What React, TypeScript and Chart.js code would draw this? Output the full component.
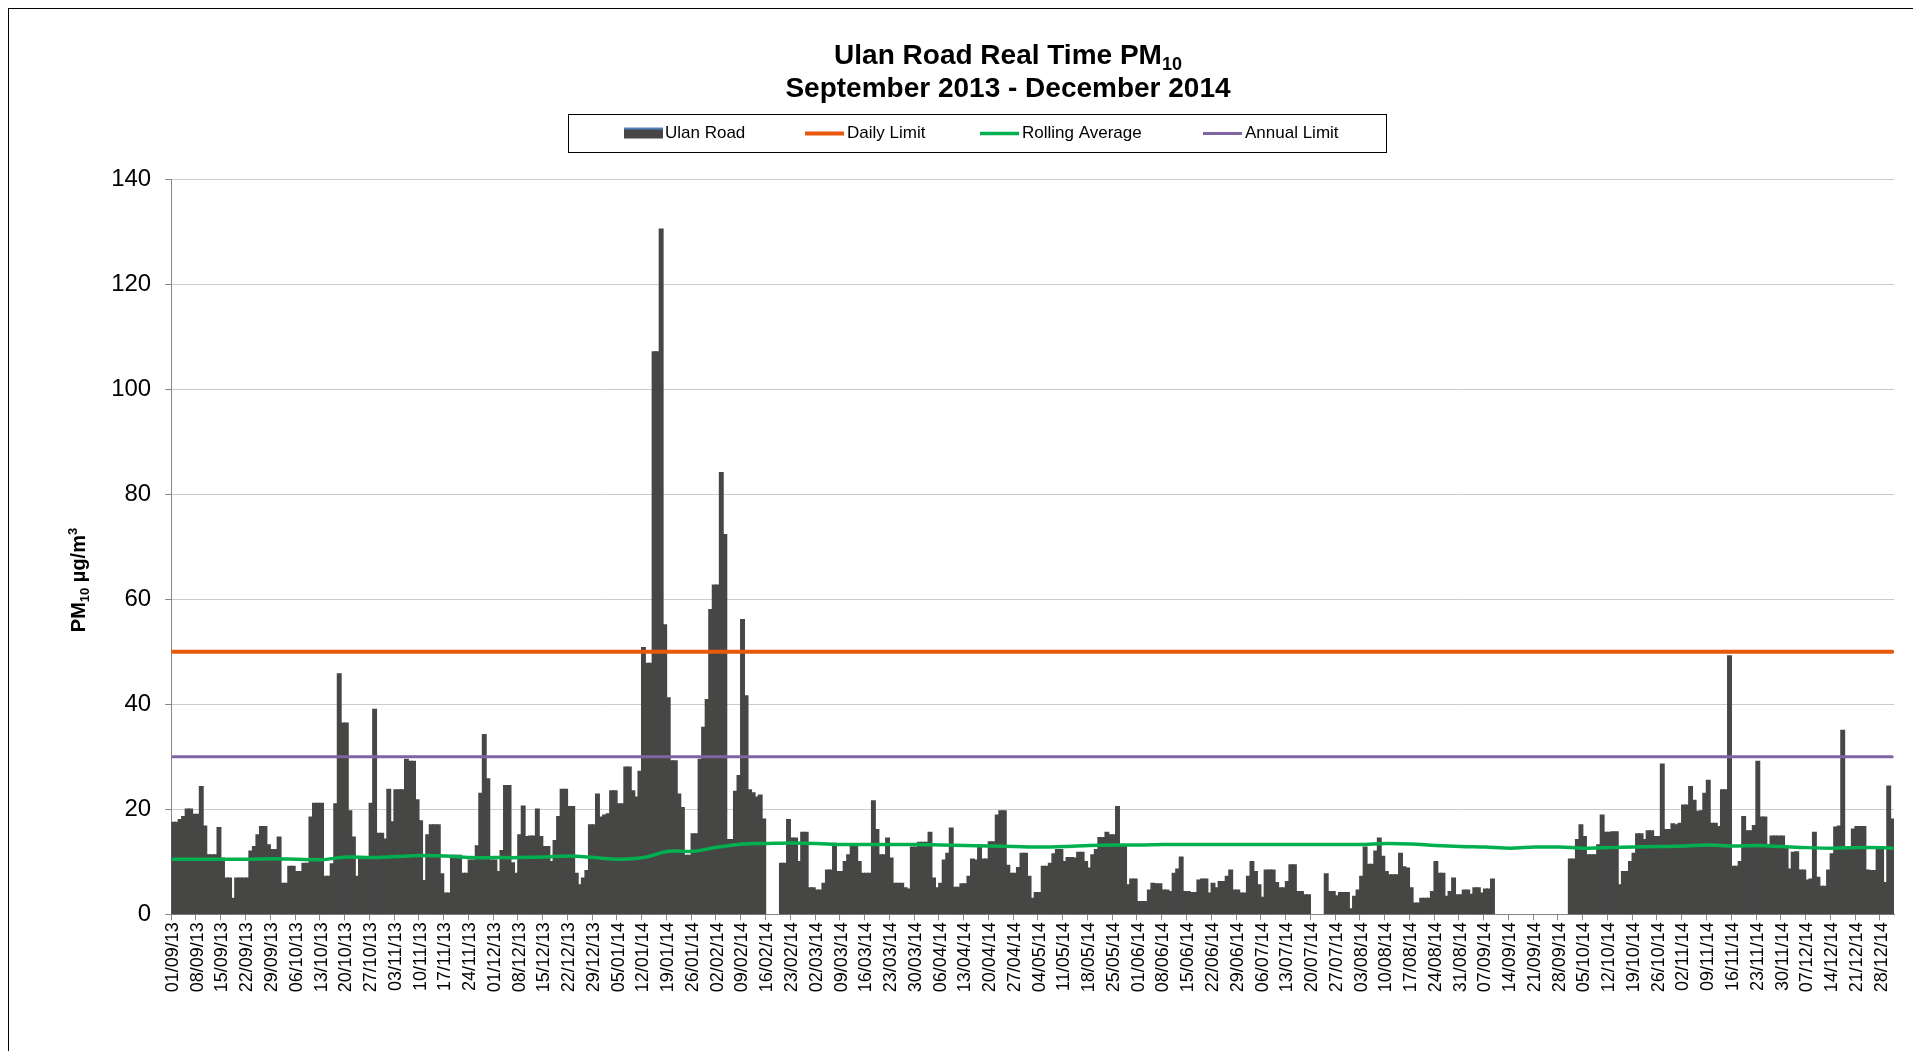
import React, { useEffect, useRef } from 'react';
import { Chart, registerables } from 'chart.js';

Chart.register(...registerables);

const FONT = "'Liberation Sans', Arial, Helvetica, sans-serif";

// ---- categories: one per day, 01/09/13 .. 31/12/14 ----
const START_UTC = Date.UTC(2013, 8, 1);
const DAY_COUNT = 487;
const pad2 = (n: number) => (n < 10 ? '0' : '') + n;
const categories: string[] = [];
for (let i = 0; i < DAY_COUNT; i++) {
  const d = new Date(START_UTC + i * 86400000);
  categories.push(pad2(d.getUTCDate()) + '/' + pad2(d.getUTCMonth() + 1) + '/' + pad2(d.getUTCFullYear() % 100));
}
// weekly tick labels (every 7th day)
const tickLabels: string[] = categories.filter((_, i) => i % 7 === 0);

// ---- Ulan Road daily PM10 (µg/m3), one row per week starting at the tick label ----
const ulanRoad: (number | null)[] = [
  17.5, 17.5, 18, 18.6, 20, 20, 19, // 01/09/13
  19, 24.3, 16.8, 11.3, 11.3, 11.3, 16.5, // 08/09/13
  10.7, 6.9, 6.9, 3, 6.9, 6.9, 6.9, // 15/09/13
  6.9, 12, 12.9, 15.1, 16.7, 16.7, 13.2, // 22/09/13
  12.3, 12.3, 14.7, 5.9, 5.9, 9.1, 9.1, // 29/09/13
  8.1, 8.1, 9.7, 9.7, 18.5, 21.1, 21.1, // 06/10/13
  21.1, 7.2, 7.2, 9.6, 21, 45.8, 36.4, // 13/10/13
  36.4, 19.7, 14.7, 7.2, 10.5, 10.5, 10.5, // 20/10/13
  21.1, 39, 15.4, 15.4, 14.3, 23.8, 17.6, // 27/10/13
  23.7, 23.7, 23.7, 29.5, 29.1, 29.1, 21.8, // 03/11/13
  17.8, 6.4, 15.1, 17, 17, 17, 7.7, // 10/11/13
  4, 4, 11.2, 11.2, 11.2, 7.8, 7.8, // 17/11/13
  10.3, 10.3, 13, 23, 34.2, 25.8, 10.3, // 24/11/13
  10.3, 8.1, 12.1, 24.5, 24.5, 9.8, 7.8, // 01/12/13
  15.1, 20.6, 14.8, 14.9, 14.9, 20, 14.8, // 08/12/13
  12.9, 12.9, 10, 14, 18.6, 23.8, 23.8, // 15/12/13
  20.5, 20.5, 7.8, 5.6, 6.9, 8.3, 17, // 22/12/13
  17, 22.9, 18.5, 18.9, 19.1, 23.5, 23.5, // 29/12/13
  21, 21, 28, 28, 23.5, 22.3, 27.2, // 05/01/14
  50.8, 47.8, 47.8, 107.1, 107.1, 130.5, 55.1, // 12/01/14
  41.2, 29.2, 29.2, 22.9, 20.3, 11.2, 11.2, // 19/01/14
  15.3, 15.3, 29.5, 35.6, 40.9, 58, 62.7, // 26/01/14
  62.7, 84.1, 72.3, 14.2, 14.2, 23.4, 26.4, // 02/02/14
  56.1, 41.6, 23.7, 23.1, 22.3, 22.7, 18.1, // 09/02/14
  null, null, null, null, 9.7, 9.7, 18, // 16/02/14
  14.5, 14.5, 10, 15.6, 15.6, 5, 5, // 23/02/14
  4.6, 4.6, 5.9, 8.4, 8.4, 13.5, 8.1, // 02/03/14
  8.1, 10, 11.3, 13.2, 13.2, 10, 7.8, // 09/03/14
  7.8, 7.8, 21.6, 16.1, 11.3, 11.3, 14.5, // 16/03/14
  10.7, 5.9, 5.9, 5.9, 5, 4.8, 12.8, // 23/03/14
  12.8, 13.7, 13.7, 13.7, 15.6, 6.9, 5, // 30/03/14
  5.9, 10.3, 11.6, 16.4, 5.1, 5.1, 5.8, // 06/04/14
  5.8, 7.2, 10.5, 10.3, 12.8, 10.5, 10.5, // 13/04/14
  13.8, 13.8, 18.9, 19.7, 19.7, 9.3, 7.8, // 20/04/14
  7.8, 8.9, 11.6, 11.6, 7.2, 3, 4.1, // 27/04/14
  4.1, 9.1, 9.1, 9.7, 11.5, 12.3, 12.3, // 04/05/14
  10, 10.8, 10.8, 10.7, 11.8, 11.8, 10, // 11/05/14
  8.8, 11.3, 12.3, 14.6, 14.6, 15.6, 15.1, // 18/05/14
  15.1, 20.5, 13.2, 13.2, 5.6, 6.7, 6.7, // 25/05/14
  2.4, 2.4, 2.4, 4.6, 5.9, 5.8, 5.8, // 01/06/14
  4.6, 4.6, 4.3, 7.8, 8.6, 10.9, 4.3, // 08/06/14
  4.3, 4.1, 4.1, 6.5, 6.7, 6.7, 4, // 15/06/14
  5.9, 5, 6.2, 6.2, 7.2, 8.4, 4.6, // 22/06/14
  4.6, 4, 4, 7.2, 10, 8.1, 5.6, // 29/06/14
  3.2, 8.4, 8.4, 8.4, 6, 5, 5, // 06/07/14
  6.2, 9.4, 9.4, 4.3, 4.3, 3.7, 3.7, // 13/07/14
  null, null, null, null, 7.7, 4.3, 4.3, // 20/07/14
  3.5, 4.1, 4.1, 4.1, 1, 3.4, 4.6, // 27/07/14
  7.2, 12.8, 9.5, 9.5, 12, 14.5, 11, // 03/08/14
  8.1, 7.5, 7.5, 7.5, 11.6, 9, 8.8, // 10/08/14
  5, 2.1, 2.1, 3, 3, 3, 4.3, // 17/08/14
  10, 7.8, 7.8, 3.4, 4.3, 6.9, 3.7, // 24/08/14
  3.7, 4.6, 4.6, 3.8, 5, 5, 4, // 31/08/14
  4.8, 4.8, 6.7, null, null, null, null, // 07/09/14
  null, null, null, null, null, null, null, // 14/09/14
  null, null, null, null, null, null, null, // 21/09/14
  null, null, null, 10.5, 10.5, 14.2, 17, // 28/09/14
  14.8, 11.3, 11.3, 11.3, 13.2, 18.9, 15.6, // 05/10/14
  15.6, 15.7, 15.7, 5.6, 8.1, 8.1, 10, // 12/10/14
  11.6, 15.3, 15.3, 14.2, 15.9, 15.9, 14.8, // 19/10/14
  14.8, 28.6, 16.1, 16.1, 17.2, 17, 17.3, // 26/10/14
  20.8, 20.8, 24.3, 21.7, 19.6, 19.7, 23, // 02/11/14
  25.5, 17.3, 17.3, 16.7, 23.7, 23.7, 49.2, // 09/11/14
  9.1, 9.1, 10, 18.6, 15.9, 15.9, 16.9, // 16/11/14
  29.1, 18.5, 18.5, 13.2, 14.9, 14.9, 14.9, // 23/11/14
  14.9, 12.9, 8.6, 11.8, 11.9, 8.4, 8.4, // 30/11/14
  6.5, 6.7, 15.6, 7, 5.3, 5.3, 8.4, // 07/12/14
  11.5, 16.6, 16.8, 35, 12.4, 12.4, 16.2, // 14/12/14
  16.7, 16.7, 16.7, 8.4, 8.3, 8.3, 12.4, // 21/12/14
  12.4, 6, 24.4, 18.1, // 28/12/14
];

// ---- Rolling average, read at each weekly tick (plus the final day) ----
const rollingAverage: number[] = [
  10.5, 10.5, 10.5, 10.5, 10.6, 10.5, 10.4, 10.9, 10.8, 11.0,
  11.2, 11.1, 10.8, 10.8, 10.8, 10.9, 11.1, 10.8, 10.5, 10.8,
  12.0, 12.0, 12.8, 13.4, 13.5, 13.6, 13.5, 13.3, 13.3, 13.3,
  13.3, 13.2, 13.1, 13.0, 12.9, 12.8, 12.9, 13.1, 13.2, 13.2,
  13.3, 13.3, 13.3, 13.3, 13.3, 13.3, 13.3, 13.3, 13.3, 13.5,
  13.4, 13.1, 12.9, 12.8, 12.6, 12.8, 12.8, 12.6, 12.7, 12.8,
  12.9, 13.0, 13.2, 13.0, 13.1, 12.9, 12.7, 12.6, 12.7, 12.7,
];
const rollingAverageLast = 12.6;

const dailyLimit = 50;
const annualLimit = 30;

const yTicks = { min: 0, max: 140, step: 20 };

const titleLine1 = 'Ulan Road Real Time PM';
const titleLine2 = 'September 2013 - December 2014';
const seriesNames = ['Ulan Road', 'Daily Limit', 'Rolling Average', 'Annual Limit'];

const COLORS = {
  bar: '#464745',
  daily: '#E8590C',
  rolling: '#00B050',
  annual: '#8064A2',
  grid: '#CBCBCB',
  axis: '#868686',
  legendBlue: '#4F81BD',
};

// ---- layout (canvas px) ----
const CANVAS_W = 1909;
const CANVAS_H = 1041;
const AREA = { left: 162.2, right: 1885, top: 170.3, bottom: 905.3 };

type Part = { t: string; s: number; b?: boolean; dy?: number };
function drawRich(ctx: CanvasRenderingContext2D, parts: Part[], cx: number, baseline: number) {
  let total = 0;
  const widths: number[] = [];
  for (const p of parts) {
    ctx.font = `${p.b ? 'bold ' : ''}${p.s}px ${FONT}`;
    const w = ctx.measureText(p.t).width;
    widths.push(w);
    total += w;
  }
  let x = cx - total / 2;
  ctx.textAlign = 'left';
  ctx.textBaseline = 'alphabetic';
  parts.forEach((p, i) => {
    ctx.font = `${p.b ? 'bold ' : ''}${p.s}px ${FONT}`;
    ctx.fillText(p.t, x, baseline + (p.dy || 0));
    x += widths[i];
  });
}

const decorPlugin = {
  id: 'decor',
  afterDraw(chart: any) {
    const ctx: CanvasRenderingContext2D = chart.ctx;
    ctx.save();
    ctx.fillStyle = '#000000';
    // title
    drawRich(ctx, [
      { t: titleLine1, s: 28, b: true },
      { t: '10', s: 18, b: true, dy: 6 },
    ], 999, 55);
    drawRich(ctx, [{ t: titleLine2, s: 28, b: true }], 999, 88);

    // legend box
    ctx.strokeStyle = '#000000';
    ctx.lineWidth = 1;
    ctx.strokeRect(559.5, 105.5, 818, 38);
    const ly = 124.5;
    ctx.font = `17px ${FONT}`;
    ctx.textAlign = 'left';
    ctx.textBaseline = 'middle';
    // Ulan Road symbol
    ctx.fillStyle = COLORS.bar;
    ctx.fillRect(615, ly - 5, 39, 10);
    ctx.strokeStyle = COLORS.legendBlue;
    ctx.lineWidth = 2;
    ctx.beginPath();
    ctx.moveTo(615, ly - 5);
    ctx.lineTo(654, ly - 5);
    ctx.stroke();
    ctx.fillStyle = '#000000';
    ctx.fillText(seriesNames[0], 656, ly);
    const lineItem = (x0: number, color: string, w: number, label: string) => {
      ctx.strokeStyle = color;
      ctx.lineWidth = w;
      ctx.lineCap = 'butt';
      ctx.beginPath();
      ctx.moveTo(x0, ly);
      ctx.lineTo(x0 + 39, ly);
      ctx.stroke();
      ctx.fillStyle = '#000000';
      ctx.fillText(label, x0 + 42, ly);
    };
    lineItem(796, COLORS.daily, 4, seriesNames[1]);
    lineItem(971, COLORS.rolling, 3.5, seriesNames[2]);
    lineItem(1194, COLORS.annual, 3, seriesNames[3]);

    // y axis title (rotated)
    ctx.translate(76, 571);
    ctx.rotate(-Math.PI / 2);
    ctx.fillStyle = '#000000';
    drawRich(ctx, [
      { t: 'PM', s: 20, b: true },
      { t: '10', s: 13, b: true, dy: 4 },
      { t: ' µg/m', s: 20, b: true },
      { t: '3', s: 13, b: true, dy: -8 },
    ], 0, 0);
    ctx.restore();
  },
};

export default function App() {
  const ref = useRef<HTMLCanvasElement | null>(null);

  useEffect(() => {
    document.documentElement.style.overflow = 'hidden';
    document.body.style.overflow = 'hidden';
    const canvas = ref.current;
    if (!canvas) return;

    const rollingData = tickLabels.map((l, i) => ({ x: l, y: rollingAverage[i] }));
    rollingData.push({ x: categories[DAY_COUNT - 1], y: rollingAverageLast });

    const chart = new Chart(canvas, {
      type: 'bar',
      data: {
        labels: categories,
        datasets: [
          {
            type: 'line',
            label: seriesNames[1],
            data: [{ x: categories[0], y: dailyLimit }, { x: categories[DAY_COUNT - 1], y: dailyLimit }] as any,
            borderColor: COLORS.daily,
            borderWidth: 4,
            pointRadius: 0,
            borderCapStyle: 'round',
            order: 1,
          },
          {
            type: 'line',
            label: seriesNames[2],
            data: rollingData as any,
            borderColor: COLORS.rolling,
            borderWidth: 3.5,
            pointRadius: 0,
            tension: 0.3,
            borderCapStyle: 'round',
            order: 2,
          },
          {
            type: 'line',
            label: seriesNames[3],
            data: [{ x: categories[0], y: annualLimit }, { x: categories[DAY_COUNT - 1], y: annualLimit }] as any,
            borderColor: COLORS.annual,
            borderWidth: 3,
            pointRadius: 0,
            borderCapStyle: 'round',
            order: 3,
          },
          {
            type: 'bar',
            label: seriesNames[0],
            data: ulanRoad as any,
            backgroundColor: COLORS.bar,
            borderWidth: 0,
            barPercentage: 1,
            categoryPercentage: 1,
            inflateAmount: 0.7,
            order: 10,
          } as any,
        ],
      },
      options: {
        responsive: false,
        devicePixelRatio: 1,
        animation: false,
        events: [],
        layout: {
          padding: { left: 0, right: CANVAS_W - AREA.right, top: AREA.top, bottom: 0 },
        },
        plugins: {
          legend: { display: false },
          title: { display: false },
          tooltip: { enabled: false },
        },
        scales: {
          x: {
            type: 'category',
            offset: true,
            z: 1,
            grid: {
              display: true,
              drawOnChartArea: false,
              drawTicks: true,
              tickLength: 6,
              tickColor: (c: any) => (c.index % 7 === 0 ? COLORS.axis : 'rgba(0,0,0,0)'),
              offset: true,
            },
            border: { display: true, color: COLORS.axis, width: 1 },
            ticks: {
              autoSkip: false,
              minRotation: 90,
              maxRotation: 90,
              padding: 2,
              color: '#000000',
              font: { family: FONT, size: 18 },
              callback: (_v: any, i: number) => (i % 7 === 0 ? categories[i] : ''),
            },
            afterFit: (s: any) => {
              s.height = CANVAS_H - AREA.bottom;
            },
          },
          y: {
            min: yTicks.min,
            max: yTicks.max,
            grid: {
              color: COLORS.grid,
              lineWidth: 1,
              drawTicks: true,
              tickLength: 6,
              tickColor: COLORS.axis,
            },
            border: { display: true, color: COLORS.axis, width: 1 },
            ticks: {
              stepSize: yTicks.step,
              padding: 14,
              color: '#000000',
              font: { family: FONT, size: 24 },
            },
            afterFit: (s: any) => {
              s.width = AREA.left;
            },
          },
        },
      } as any,
      plugins: [decorPlugin],
    });

    return () => {
      chart.destroy();
    };
  }, []);

  return (
    <div
      style={{
        width: CANVAS_W,
        height: CANVAS_H + 30,
        border: '1px solid #000000',
        background: '#ffffff',
        overflow: 'hidden',
      }}
    >
      <canvas ref={ref} width={CANVAS_W} height={CANVAS_H} style={{ display: 'block' }} />
    </div>
  );
}
